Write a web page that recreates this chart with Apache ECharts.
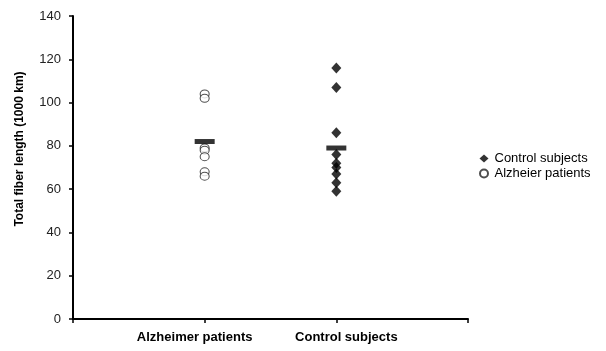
<!DOCTYPE html>
<html><head><meta charset="utf-8">
<script src="https://cdn.jsdelivr.net/npm/echarts@6/dist/echarts.min.js"></script>
<style>html,body{margin:0;padding:0;background:#fff}#c{width:606px;height:351px}</style>
</head><body><div id="c"></div>
<script>
var categories = ["Alzheimer patients", "Control subjects"];
var alzheimerValues = [104, 102, 79, 78, 75, 68, 66];
var controlValues = [116, 107, 86, 76, 72, 70, 67, 63, 59];
var meanValues = [82, 79];
var yTicks = [0, 20, 40, 60, 80, 100, 120, 140];
var legendNames = ["Control subjects", "Alzheier patients"];
var yTitle = "Total fiber length (1000 km)";

var FONT = 'Liberation Sans, Arial';
var chart = echarts.init(document.getElementById('c'));
chart.setOption({
  animation: false,
  backgroundColor: '#fff',
  grid: {left: 73, top: 16, right: 138, bottom: 32},
  graphic: [{
    type: 'text', x: 20, y: 149, rotation: Math.PI / 2,
    style: {text: yTitle, font: 'bold 12px ' + FONT, fill: '#000', textAlign: 'center', textVerticalAlign: 'middle'}
  }],
  legend: {
    orient: 'vertical', left: 474, top: 147, itemGap: 2, itemWidth: 9, itemHeight: 8,
    textStyle: {fontFamily: FONT, fontSize: 13, color: '#000', padding: [0, 0, 0, 1]},
    data: [{name: legendNames[0], icon: 'diamond'}, {name: legendNames[1], icon: 'circle'}]
  },
  xAxis: {
    type: 'value', min: 0, max: 3, interval: 1,
    axisLine: {lineStyle: {color: '#000', width: 2}},
    axisTick: {show: true, length: 4, lineStyle: {color: '#000', width: 1.5}},
    splitLine: {show: false},
    axisLabel: {
      margin: 12, fontFamily: FONT, fontSize: 13, fontWeight: 'bold', color: '#000',
      formatter: function (v) {
        if (v === 1) return '{a|' + categories[0] + '}';
        if (v === 2) return '{b|' + categories[1] + '}';
        return '';
      },
      rich: {
        a: {fontFamily: FONT, fontSize: 13, fontWeight: 'bold', color: '#000', padding: [0, 20, 0, 0]},
        b: {fontFamily: FONT, fontSize: 13, fontWeight: 'bold', color: '#000', padding: [0, 0, 0, 20]}
      }
    }
  },
  yAxis: {
    type: 'value', min: yTicks[0], max: yTicks[yTicks.length - 1], interval: 20,
    axisLine: {show: true, lineStyle: {color: '#000', width: 2}},
    axisTick: {show: true, length: 4, lineStyle: {color: '#000', width: 1.5}},
    splitLine: {show: false},
    axisLabel: {margin: 12, fontFamily: FONT, fontSize: 13, color: '#222'}
  },
  series: [
    {
      name: legendNames[0], type: 'scatter', symbol: 'diamond', symbolSize: [10, 11],
      itemStyle: {color: '#000'},
      data: controlValues.map(function (v) { return [2, v]; }), z: 3
    },
    {
      name: legendNames[1], type: 'scatter', symbol: 'circle', symbolSize: [9, 8],
      itemStyle: {color: '#fff', borderColor: '#222', borderWidth: 1},
      data: alzheimerValues.map(function (v) { return [1, v]; }), z: 3
    },
    {
      name: 'mean', type: 'scatter', symbol: 'rect', symbolSize: [20, 5],
      itemStyle: {color: '#000'},
      data: meanValues.map(function (v, i) { return [i + 1, v]; }), z: 4
    }
  ]
});
</script></body></html>
